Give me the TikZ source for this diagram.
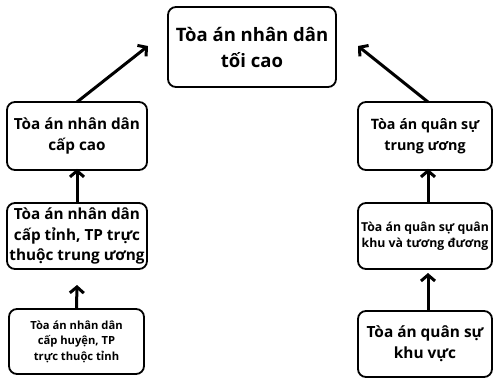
\documentclass[tikz,border=0pt]{standalone}
\usepackage{fontspec}
\setmainfont{Open Sans}
\usetikzlibrary{arrows.meta}
\begin{document}
\begin{tikzpicture}[x=1pt,y=-1pt,
  box/.style={draw, line width=1.8pt, rounded corners=8pt, align=center, inner sep=1pt, font=\bfseries},
  arr/.style={line width=3pt, -{Straight Barb[length=6pt,width=14pt,line width=3pt]}}]
\useasboundingbox (0,0) rectangle (493,381);
\node[box, minimum width=168pt, minimum height=80pt, font=\bfseries\fontsize{18.5}{26}\selectfont] (top) at (252,47) {Tòa án nhân dân\\tối cao};
\node[box, minimum width=140pt, minimum height=68pt, font=\bfseries\fontsize{15.3}{21}\selectfont] (l1) at (77,136) {Tòa án nhân dân\\cấp cao};
\node[box, minimum width=134pt, minimum height=68pt, font=\bfseries\fontsize{14.3}{21}\selectfont] (r1) at (425,136) {Tòa án quân sự\\trung ương};
\node[box, minimum width=140pt, minimum height=66pt, font=\bfseries\fontsize{15.3}{20.5}\selectfont] (l2) at (77,236) {Tòa án nhân dân\\cấp tỉnh, TP trực\\thuộc trung ương};
\node[box, minimum width=134pt, minimum height=66pt, font=\bfseries\fontsize{12.3}{16}\selectfont] (r2) at (425,236) {Tòa án quân sự quân\\khu và tương đương};
\node[box, minimum width=135pt, minimum height=65pt, font=\bfseries\fontsize{11.2}{15.5}\selectfont] (l3) at (76.5,341.5) {Tòa án nhân dân\\cấp huyện, TP\\trực thuộc tỉnh};
\node[box, minimum width=134pt, minimum height=66pt, font=\bfseries\fontsize{15.4}{21}\selectfont] (r3) at (425,344) {Tòa án quân sự\\khu vực};
\coordinate (tl) at (148,46);
\coordinate (tr) at (358,46);
\coordinate (a3) at (77,285);
\coordinate (b3) at (428,273);
\draw[arr] (77,102) -- (tl);
\draw[arr] (428,102) -- (tr);
\draw[arr] (l2.north) -- ([yshift=2pt]l1.south);
\draw[arr] ([xshift=3pt]r2.north) -- ([xshift=3pt,yshift=2pt]r1.south);
\draw[arr] (l3.north) -- (a3);
\draw[arr] ([xshift=3pt]r3.north) -- (b3);
\end{tikzpicture}
\end{document}
